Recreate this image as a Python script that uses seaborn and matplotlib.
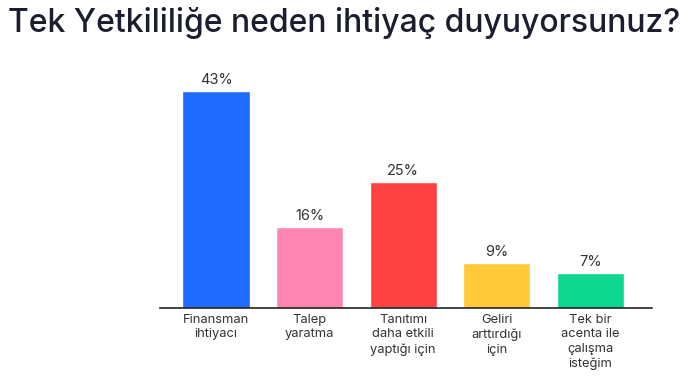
import matplotlib
matplotlib.use("Agg")
import matplotlib.pyplot as plt
import seaborn as sns
import pandas as pd

categories = ["Finansman\nihtiyacı", "Talep\nyaratma", "Tanıtımı\ndaha etkili\nyaptığı için",
              "Geliri\narttırdığı\niçin", "Tek bir\nacenta ile\nçalışma\nisteğim"]
values = [43, 16, 25, 9, 7]
labels = ["43%", "16%", "25%", "9%", "7%"]
colors = ["#1F6BFF", "#FF85B2", "#FF4242", "#FFC93A", "#0DD68E"]
title = "Tek Yetkililiğe neden ihtiyaç duyuyorsunuz?"

sns.set_theme(style="white")
plt.rcParams['font.family'] = ['Inter', 'DejaVu Sans']

df = pd.DataFrame({"cat": categories, "val": values})
fig = plt.figure(figsize=(7, 3.91), dpi=100)
ax = fig.add_axes([0.2286, 0.2123, 0.7028, 0.607])
sns.barplot(data=df, x="cat", y="val", hue="cat", palette=colors, legend=False,
            width=0.72, saturation=1, ax=ax)
ax.set_xlim(-0.6, 4.66)
ax.set_ylim(0, 47)
for i, (v, l) in enumerate(zip(values, labels)):
    ax.text(i, v + 0.8, l, ha="center", va="bottom", fontsize=10.5, color="#333333")
ax.set_xlabel("")
ax.set_ylabel("")
ax.set_yticks([])
for s in ["top", "right", "left"]:
    ax.spines[s].set_visible(False)
ax.spines["bottom"].set_color("#222222")
ax.spines["bottom"].set_linewidth(1.2)
ax.tick_params(axis="x", length=0, pad=4, labelsize=9.3, labelcolor="#333333")
for t in ax.get_xticklabels():
    t.set_linespacing(1.3)
fig.text(0.011, 0.942, title, fontsize=23, fontweight=500, color="#1B1E2E", ha="left", va="center")
fig.savefig("out.png", dpi=100)
